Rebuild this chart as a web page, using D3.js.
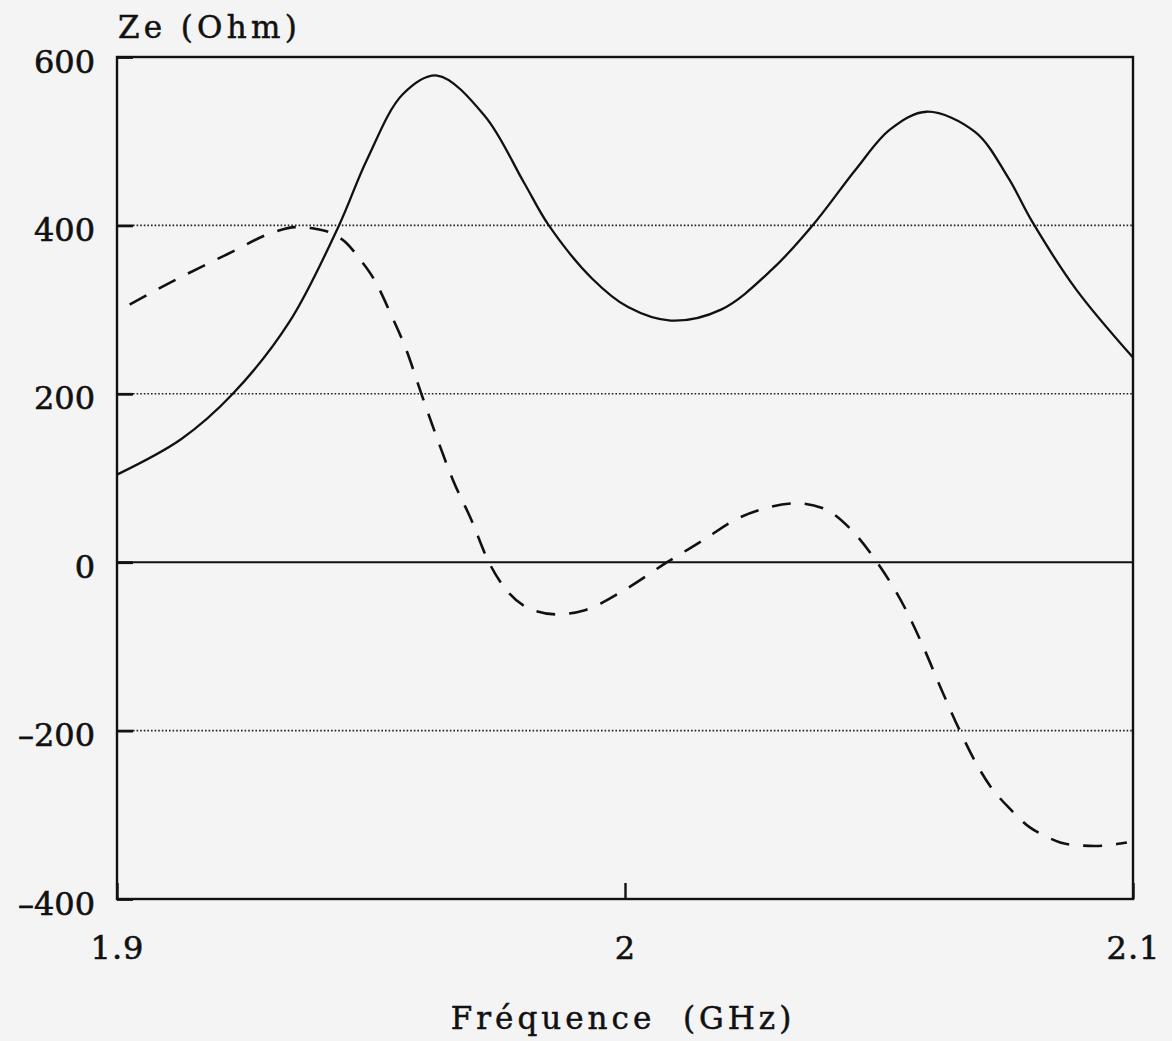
<!DOCTYPE html>
<html>
<head>
<meta charset="utf-8">
<script src="https://cdn.jsdelivr.net/npm/d3@7"></script>
<style>
  body { margin: 0; background: #f4f4f5; }
  svg { display: block; }
</style>
</head>
<body>
<div id="chart"></div>
<script>
// frequency (GHz) / impedance (Ohm)
// solid curve
const freqReal = [1.900, 1.9126, 1.9228, 1.9339, 1.9437, 1.9492, 1.9563, 1.963,
  1.9724, 1.9801, 1.985, 1.9935, 2.0006, 2.009, 2.0189, 2.029, 2.0372, 2.0455, 2.0522,
  2.0594, 2.0689, 2.0754, 2.0801, 2.0888, 2.100];
const zReal = [104, 146, 200, 285, 400, 478, 556, 578,
  530, 451, 400, 337, 303, 287, 300, 348, 402, 467, 514,
  535, 511, 457, 405, 324, 243];

// dashed curve
const freqImag = [1.9025, 1.9098, 1.9218, 1.9309, 1.935, 1.939, 1.9425, 1.945, 1.9478, 1.9506,
  1.9541, 1.9569, 1.9598, 1.9626, 1.9661, 1.9697, 1.9732, 1.976, 1.9815, 1.9864, 1.9921,
  1.9996, 2.0083, 2.0156, 2.0222, 2.027, 2.0337, 2.039, 2.0443, 2.0496, 2.0549, 2.0589,
  2.0622, 2.0659, 2.0695, 2.0719, 2.0758, 2.0797, 2.0823, 2.0872, 2.0925, 2.0988];
const zImag = [306, 330, 366, 392, 398, 396, 390, 380, 360, 336,
  292, 253, 202, 154, 98, 51, 0, -28, -56, -62, -57,
  -34, 0, 27, 52, 63, 70, 64, 40, 0, -52, -103,
  -150, -200, -243, -266, -293, -315, -324, -335, -337, -333];

const yTicks = [-400, -200, 0, 200, 400, 600];
const yGrid = [-200, 200, 400];
const xTicks = [1.9, 2, 2.1];
const xTickLabels = ["1.9", "2", "2.1"];

const width = 1172, height = 1041;
const margin = {left: 117, right: 1133, top: 57, bottom: 899};
const font = "'DejaVu Serif', serif";

const svg = d3.select("#chart").append("svg")
  .attr("width", width)
  .attr("height", height);

const x = d3.scaleLinear().domain([1.9, 2.1]).range([margin.left, margin.right]);
const y = d3.scaleLinear().domain([-400, 600]).range([margin.bottom, margin.top]);

// dotted grid lines
svg.append("g")
  .selectAll("line")
  .data(yGrid)
  .join("line")
    .attr("x1", margin.left + 16)
    .attr("x2", margin.right)
    .attr("y1", d => y(d))
    .attr("y2", d => y(d))
    .attr("stroke", "#222")
    .attr("stroke-width", 1.6)
    .attr("stroke-dasharray", "1.6,2");

// zero line
svg.append("line")
  .attr("x1", margin.left).attr("x2", margin.right)
  .attr("y1", y(0)).attr("y2", y(0))
  .attr("stroke", "#111")
  .attr("stroke-width", 2);

// Y axis, ticks pointing inwards
const yAxis = svg.append("g")
  .attr("transform", `translate(${margin.left},0)`)
  .call(d3.axisLeft(y).tickValues(yTicks).tickSize(-16).tickPadding(22)
    .tickFormat(d => d < 0 ? "\u2013" + Math.abs(d) : d));
yAxis.select(".domain").remove();
yAxis.selectAll(".tick line").attr("stroke", "#111").attr("stroke-width", 2.8);
yAxis.selectAll("text")
  .attr("dy", "0.47em")
  .attr("fill", "#111")
  .attr("stroke", "#111")
  .attr("stroke-width", 0.6)
  .style("font-family", font)
  .style("font-size", "32px");

// X axis
const xAxis = svg.append("g")
  .attr("transform", `translate(0,${margin.bottom})`)
  .call(d3.axisBottom(x).tickValues(xTicks).tickSize(-16).tickPadding(37)
    .tickFormat((d, i) => xTickLabels[i]));
xAxis.select(".domain").remove();
xAxis.selectAll(".tick line").attr("stroke", "#111").attr("stroke-width", 2.4);
xAxis.selectAll("text")
  .attr("fill", "#111")
  .attr("stroke", "#111")
  .attr("stroke-width", 0.6)
  .style("font-family", font)
  .style("font-size", "32px")
  .style("letter-spacing", "1px");

// frame
svg.append("rect")
  .attr("x", margin.left).attr("y", margin.top)
  .attr("width", margin.right - margin.left).attr("height", margin.bottom - margin.top)
  .attr("fill", "none")
  .attr("stroke", "#111")
  .attr("stroke-width", 2.4);

const lineSmooth = d3.line()
  .x(d => x(d[0]))
  .y(d => y(d[1]))
  .curve(d3.curveCatmullRom.alpha(0.5));

const lineMono = d3.line()
  .x(d => x(d[0]))
  .y(d => y(d[1]))
  .curve(d3.curveMonotoneX);

svg.append("path")
  .datum(d3.zip(freqReal, zReal))
  .attr("d", lineSmooth)
  .attr("fill", "none")
  .attr("stroke", "#111")
  .attr("stroke-width", 2.3);

svg.append("path")
  .datum(d3.zip(freqImag, zImag))
  .attr("d", lineMono)
  .attr("fill", "none")
  .attr("stroke", "#111")
  .attr("stroke-width", 2.6)
  .attr("stroke-dasharray", "19,14");

// axis titles
svg.append("text")
  .attr("x", 118)
  .attr("y", 38)
  .attr("fill", "#111")
  .attr("stroke", "#111")
  .attr("stroke-width", 0.5)
  .style("font-family", font)
  .style("font-size", "31px")
  .style("letter-spacing", "4.3px")
  .text("Ze (Ohm)");

svg.append("text")
  .attr("x", 623)
  .attr("y", 1029)
  .attr("text-anchor", "middle")
  .attr("fill", "#111")
  .attr("stroke", "#111")
  .attr("stroke-width", 0.5)
  .style("font-family", font)
  .style("font-size", "31px")
  .style("letter-spacing", "4px")
  .style("white-space", "pre")
  .text("Fréquence  (GHz)");
</script>
</body>
</html>
